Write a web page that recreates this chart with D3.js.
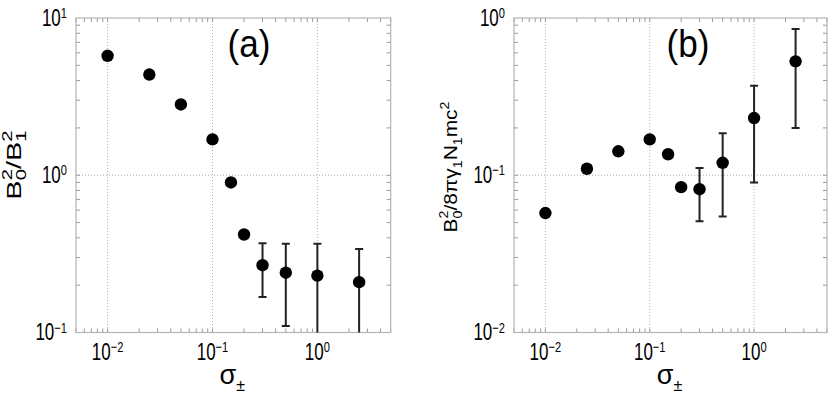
<!DOCTYPE html>
<html>
<head>
<meta charset="utf-8">
<script src="https://cdn.jsdelivr.net/npm/d3@7"></script>
<style>
  body { margin: 0; background: #fff; }
  text { font-family: "Liberation Sans", Arial, sans-serif; fill: #000; }
</style>
</head>
<body>
<svg id="chart" width="830" height="397"></svg>
<script>
// sigma values shared by both panels
var sigma = [0.01, 0.025, 0.05, 0.1, 0.15, 0.2, 0.3, 0.5, 1.0, 2.5];

// panel (a): B0^2/B1^2
var ratioA = [5.75, 4.37, 2.82, 1.69, 0.90, 0.42, 0.268, 0.240, 0.23, 0.209];
var upperA = [null, null, null, null, null, null, 0.37, 0.367, 0.367, 0.34];
var lowerA = [null, null, null, null, null, null, 0.168, 0.11, 0.08, 0.08];

// panel (b): B0^2/8 pi gamma1 N1 m c^2
var ratioB = [0.0575, 0.110, 0.142, 0.169, 0.136, 0.084, 0.0815, 0.120, 0.231, 0.53];
var upperB = [null, null, null, null, null, null, 0.111, 0.185, 0.371, 0.85];
var lowerB = [null, null, null, null, null, null, 0.051, 0.0546, 0.090, 0.20];

var xDomain = [0.005, 5];
var xMajor = [0.01, 0.1, 1];
var xExp = ["\u22122", "\u22121", "0"];

var svg = d3.select("#chart");

function minorTicks(domain){
  var out = [];
  var lo = Math.floor(Math.log10(domain[0])), hi = Math.ceil(Math.log10(domain[1]));
  for (var e = lo; e < hi; e++){
    for (var m = 1; m < 10; m++){
      var v = m * Math.pow(10, e);
      if (v >= domain[0] * 0.999 && v <= domain[1] * 1.001) out.push(v);
    }
  }
  return out;
}

// "10^n" label, squeezed horizontally like the original figure
function powLabel(g, x, y, anchor, exp){
  var t = g.append("text")
    .attr("transform", "translate(" + x + "," + y + ") scale(0.74,1)")
    .attr("text-anchor", anchor).style("font-size", "23px");
  t.append("tspan").text("10");
  t.append("tspan").attr("dy", -7.5).style("font-size", "15px").text(exp);
  return t;
}

function sub(t, txt, size, dy){
  return t.append("tspan").attr("dy", dy).style("font-size", size + "px").text(txt);
}

function panel(opt){
  var x = d3.scaleLog().domain(xDomain).range([opt.left, opt.right]);
  var y = d3.scaleLog().domain(opt.yDomain).range([opt.bottom, opt.top]);
  var g = svg.append("g");

  var clipId = "clip" + opt.name;
  svg.append("clipPath").attr("id", clipId)
     .append("rect")
     .attr("x", opt.left).attr("y", opt.top)
     .attr("width", opt.right - opt.left).attr("height", opt.bottom - opt.top);

  // dotted grid at decades
  g.selectAll("line.gx").data(xMajor).enter().append("line")
   .attr("x1", d => x(d)).attr("x2", d => x(d))
   .attr("y1", opt.top).attr("y2", opt.bottom)
   .attr("stroke", "#999").attr("stroke-width", 0.8).attr("stroke-dasharray", "1,2");
  g.selectAll("line.gy").data(opt.yGrid).enter().append("line")
   .attr("y1", d => y(d)).attr("y2", d => y(d))
   .attr("x1", opt.left).attr("x2", opt.right)
   .attr("stroke", "#999").attr("stroke-width", 0.8).attr("stroke-dasharray", "1,2");

  // inner ticks on all four sides
  var tl = 4;
  var xm = minorTicks(xDomain), ym = minorTicks(opt.yDomain);
  g.selectAll("line.tb").data(xm).enter().append("line")
   .attr("x1", d => x(d)).attr("x2", d => x(d))
   .attr("y1", opt.bottom).attr("y2", opt.bottom - tl)
   .attr("stroke", "#999");
  g.selectAll("line.tt").data(xm).enter().append("line")
   .attr("x1", d => x(d)).attr("x2", d => x(d))
   .attr("y1", opt.top).attr("y2", opt.top + tl)
   .attr("stroke", "#999");
  g.selectAll("line.tl").data(ym).enter().append("line")
   .attr("y1", d => y(d)).attr("y2", d => y(d))
   .attr("x1", opt.left).attr("x2", opt.left + tl)
   .attr("stroke", "#999");
  g.selectAll("line.tr").data(ym).enter().append("line")
   .attr("y1", d => y(d)).attr("y2", d => y(d))
   .attr("x1", opt.right).attr("x2", opt.right - tl)
   .attr("stroke", "#999");

  // frame
  g.append("rect")
   .attr("x", opt.left).attr("y", opt.top)
   .attr("width", opt.right - opt.left).attr("height", opt.bottom - opt.top)
   .attr("fill", "none").attr("stroke", "#b4b4b4").attr("stroke-width", 1.2);

  // tick labels
  xMajor.forEach(function(v, i){
    powLabel(g, x(v), opt.bottom + 27, "middle", xExp[i]);
  });
  opt.yMajor.forEach(function(v, i){
    powLabel(g, opt.left - 9, y(v) + 7.5, "end", opt.yExp[i]);
  });

  // x label
  var xl = g.append("text").attr("x", (opt.left + opt.right) / 2 - 1).attr("y", 384)
    .attr("text-anchor", "middle");
  xl.append("tspan").style("font-size", "27px").text("σ");
  xl.append("tspan").attr("dy", 7).style("font-size", "16px").text("±");

  // panel letter
  g.append("text")
   .attr("transform", "translate(" + opt.letterX + ",57) scale(0.9,1)")
   .attr("text-anchor", "middle").style("font-size", "39px").text(opt.letter);

  // y label, stretched along its length
  var yl = g.append("text")
    .attr("transform", "translate(" + opt.yLabelX + "," + opt.yLabelY + ") rotate(-90) scale(" + opt.yStretch + ",1)")
    .attr("text-anchor", "middle").style("font-size", opt.yFont + "px");
  opt.yLabel(yl);

  // error bars and points
  var pts = sigma.map(function(s, i){
    return {x: s, y: opt.vals[i], hi: opt.upper[i], lo: opt.lower[i]};
  });
  var eb = g.append("g").attr("clip-path", "url(#" + clipId + ")");
  var withErr = pts.filter(d => d.hi !== null);
  eb.selectAll("line.eb").data(withErr).enter().append("line")
    .attr("x1", d => x(d.x)).attr("x2", d => x(d.x))
    .attr("y1", d => y(d.hi)).attr("y2", d => y(d.lo))
    .attr("stroke", "#222").attr("stroke-width", 2);
  eb.selectAll("line.cu").data(withErr).enter().append("line")
    .attr("x1", d => x(d.x) - 4).attr("x2", d => x(d.x) + 4)
    .attr("y1", d => y(d.hi)).attr("y2", d => y(d.hi))
    .attr("stroke", "#222").attr("stroke-width", 2);
  eb.selectAll("line.cl").data(withErr).enter().append("line")
    .attr("x1", d => x(d.x) - 4).attr("x2", d => x(d.x) + 4)
    .attr("y1", d => y(d.lo)).attr("y2", d => y(d.lo))
    .attr("stroke", "#222").attr("stroke-width", 2);
  g.selectAll("circle").data(pts).enter().append("circle")
    .attr("cx", d => x(d.x)).attr("cy", d => y(d.y)).attr("r", 6.2)
    .attr("fill", "#000");
}

panel({
  name: "a", left: 76, right: 390.7, top: 18, bottom: 332.5,
  yDomain: [0.1, 10], yMajor: [0.1, 1, 10], yExp: ["\u22121", "0", "1"], yGrid: [1],
  vals: ratioA, upper: upperA, lower: lowerA,
  letter: "(a)", letterX: 249,
  yLabelX: 21, yLabelY: 165, yStretch: 1.45, yFont: 20,
  yLabel: function(t){
    t.append("tspan").text("B");
    sub(t, "0", 14, 5);
    sub(t, "2", 14, -14).attr("dx", -7.8);
    sub(t, "/B", 20, 9);
    sub(t, "1", 14, 5);
    sub(t, "2", 14, -14).attr("dx", -7.8);
  }
});

panel({
  name: "b", left: 514, right: 827, top: 18, bottom: 332.5,
  yDomain: [0.01, 1], yMajor: [0.01, 0.1, 1], yExp: ["\u22122", "\u22121", "0"], yGrid: [0.1],
  vals: ratioB, upper: upperB, lower: lowerB,
  letter: "(b)", letterX: 688,
  yLabelX: 457, yLabelY: 167, yStretch: 1.1, yFont: 19,
  yLabel: function(t){
    t.append("tspan").text("B");
    sub(t, "0", 13, 5);
    sub(t, "2", 13, -14).attr("dx", -7.2);
    sub(t, "/8πγ", 19, 9);
    sub(t, "1", 13, 5);
    sub(t, "N", 19, -5);
    sub(t, "1", 13, 5);
    sub(t, "mc", 19, -5);
    sub(t, "2", 13, -8);
  }
});
</script>
</body>
</html>
